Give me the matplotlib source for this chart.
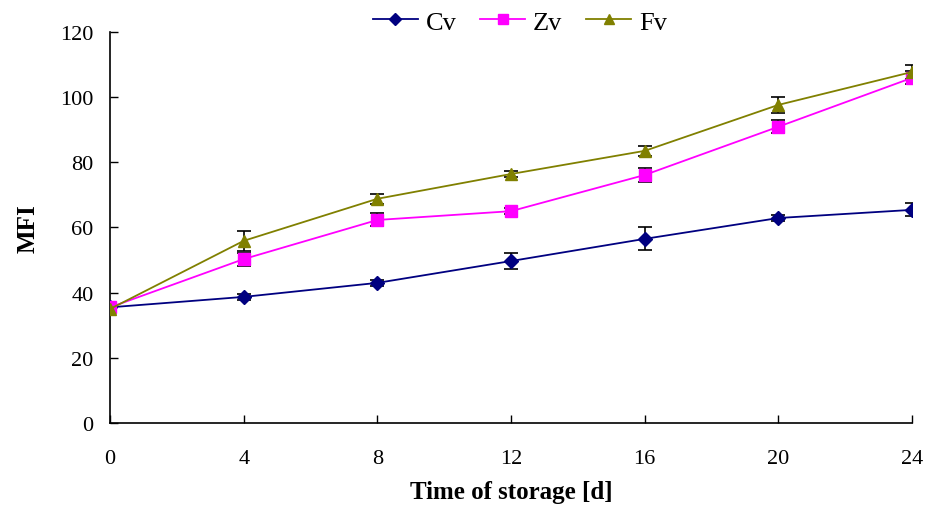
import matplotlib.pyplot as plt

# storage time (days)
days = [0, 4, 8, 12, 16, 20, 24]

# MFI values
cv = [35.5, 38.7, 43.0, 49.7, 56.5, 62.9, 65.4]
zv = [35.5, 50.3, 62.3, 65.0, 76.1, 90.9, 105.9]
fv = [35.0, 55.9, 68.8, 76.4, 83.5, 97.6, 107.7]

# error bars
cv_err = [1.0, 1.0, 1.0, 2.5, 3.5, 1.0, 2.0]
zv_err = [1.0, 2.0, 2.0, 1.0, 2.0, 2.0, 2.0]
fv_err = [1.0, 3.0, 1.5, 1.0, 1.5, 2.5, 2.0]

plt.rcParams['font.family'] = ['Liberation Serif', 'DejaVu Serif']

fig = plt.figure(figsize=(9.25, 5.06), dpi=100)
ax = fig.add_axes([0.119, 0.162, 0.867, 0.773])

series = [
    (cv, cv_err, 'Cv', '#000080', 'D', 7),
    (zv, zv_err, 'Zv', '#FF00FF', 's', 8),
    (fv, fv_err, 'Fv', '#808000', '^', 9),
]
for vals, err, name, col, mk, ms in series:
    ax.errorbar(days, vals, yerr=err, fmt='none', ecolor='black',
                elinewidth=1.2, capsize=5, capthick=1.2, zorder=2)
    ax.plot(days, vals, color=col, marker=mk, markersize=ms, linewidth=1.3,
            label=name, zorder=3)

ax.set_xlim(0, 24)
ax.set_ylim(0, 120)
ax.set_xticks(days)
ax.set_yticks(range(0, 121, 20))
ax.tick_params(direction='in', length=6, width=1, labelsize=16)
ax.tick_params(axis='y', pad=12)
ax.tick_params(axis='x', pad=19)
for s in ['top', 'right']:
    ax.spines[s].set_visible(False)
for s in ['left', 'bottom']:
    ax.spines[s].set_linewidth(1.2)

ax.set_xlabel('Time of storage [d]', fontsize=18, fontweight='bold', labelpad=8)
ax.set_ylabel('MFI', fontsize=18, fontweight='bold', labelpad=15)

fig.legend(loc='center', bbox_to_anchor=(0.562, 0.955), ncol=3, frameon=False,
           fontsize=19, handlelength=1.7, columnspacing=0.9, handletextpad=0.3,
           markerscale=0.85)

fig.savefig('out.png', dpi=100)
